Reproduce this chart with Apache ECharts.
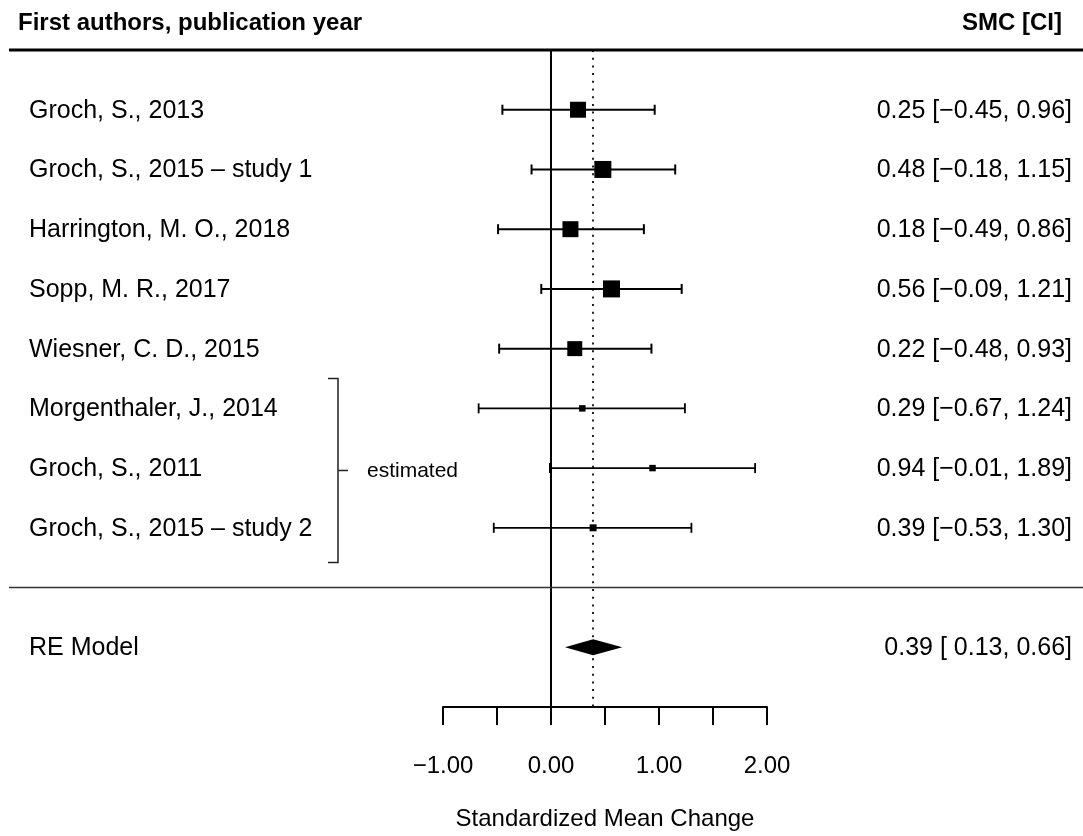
<!DOCTYPE html>
<html>
<head>
<meta charset="utf-8">
<script src="https://cdn.jsdelivr.net/npm/echarts@6.0.0/dist/echarts.min.js"></script>
<style>
  html, body { margin: 0; padding: 0; background: #fff; }
  #chart { width: 1083px; height: 836px; }
</style>
</head>
<body>
<div id="chart"></div>
<script>
// study rows (top to bottom)
const studies = [
  'Groch, S., 2013',
  'Groch, S., 2015 \u2013 study 1',
  'Harrington, M. O., 2018',
  'Sopp, M. R., 2017',
  'Wiesner, C. D., 2015',
  'Morgenthaler, J., 2014',
  'Groch, S., 2011',
  'Groch, S., 2015 \u2013 study 2'
]
const smc = [0.25, 0.48, 0.18, 0.56, 0.22, 0.29, 0.94, 0.39]
const ciLow = [-0.45, -0.18, -0.49, -0.09, -0.48, -0.67, -0.01, -0.53]
const ciHigh = [0.96, 1.15, 0.86, 1.21, 0.93, 1.24, 1.89, 1.30]
// relative weight (box size, largest = 1)
const weight = [0.94, 1.0, 0.94, 1.0, 0.88, 0.38, 0.38, 0.41]
const estimated = [false, false, false, false, false, true, true, true]

// pooled random-effects estimate: [est, lo, hi]
const pooledName = 'RE Model'
const pooled = [0.39, 0.13, 0.66]

const xTicks = [-1, -0.5, 0, 0.5, 1, 1.5, 2]
const xTickLabels = ['\u22121.00', '', '0.00', '', '1.00', '', '2.00']

const FONT = "'Liberation Sans', Helvetica, Arial, sans-serif"
const BOX = 17
const pooledRow = studies.length + 2

function fmt(v) {
  return (v < 0 ? '\u2212' : '') + Math.abs(v).toFixed(2)
}
function ciText(est, lo, hi) {
  return fmt(est) + ' [' + (lo >= 0 ? ' ' : '') + fmt(lo) + ', ' + fmt(hi) + ']'
}

const myChart = echarts.init(document.getElementById('chart'))

const headStyle = { fontFamily: FONT, fontWeight: 'bold', fontSize: 24, color: '#000' }

const option = {
  animation: false,
  title: [
    { text: 'First authors, publication year', left: 18, top: 11, padding: 0, textStyle: headStyle },
    { text: 'SMC [CI]', right: 21, top: 11, padding: 0, textStyle: headStyle }
  ],
  grid: { left: 443, right: 316, top: 50, bottom: 125 },
  xAxis: {
    type: 'value',
    min: -1,
    max: 2,
    interval: 0.5,
    name: 'Standardized Mean Change',
    nameLocation: 'middle',
    nameGap: 100,
    nameTextStyle: { fontFamily: FONT, fontSize: 24, color: '#000' },
    axisLine: { onZero: false, lineStyle: { color: '#000', width: 2 } },
    axisTick: { length: 18, lineStyle: { color: '#000', width: 2 } },
    splitLine: { show: false },
    axisLabel: {
      margin: 47,
      fontFamily: FONT,
      fontSize: 24,
      color: '#000',
      formatter: v => {
        const k = xTicks.findIndex(t => Math.abs(t - v) < 1e-6)
        return k < 0 ? '' : xTickLabels[k]
      }
    }
  },
  yAxis: { type: 'value', min: 0, max: 11, inverse: true, show: false },
  series: [
    {
      // full-width header rule and separator above the pooled row
      type: 'custom',
      silent: true,
      data: [[0, 3], [studies.length + 1, 1.6]],
      renderItem: (params, api) => {
        const y = api.coord([0, api.value(0)])[1]
        return {
          type: 'line',
          shape: { x1: 9, y1: y, x2: api.getWidth(), y2: y },
          style: { stroke: params.dataIndex === 0 ? '#000' : '#333', lineWidth: api.value(1) }
        }
      }
    },
    {
      type: 'custom',
      silent: true,
      data: studies.map((s, i) => [i + 1, smc[i], ciLow[i], ciHigh[i], weight[i]]),
      encode: { x: [1, 2, 3], y: 0 },
      renderItem: (params, api) => {
        const row = api.value(0)
        const c = api.coord([api.value(1), row])
        const a = api.coord([api.value(2), row])
        const b = api.coord([api.value(3), row])
        const s = api.value(4) * BOX
        const lw = estimated[params.dataIndex] ? 1.8 : 2
        const st = { stroke: '#000', lineWidth: lw }
        return {
          type: 'group',
          children: [
            { type: 'line', shape: { x1: a[0], y1: c[1], x2: b[0], y2: c[1] }, style: st },
            { type: 'line', shape: { x1: a[0], y1: c[1] - 5, x2: a[0], y2: c[1] + 5 }, style: st },
            { type: 'line', shape: { x1: b[0], y1: c[1] - 5, x2: b[0], y2: c[1] + 5 }, style: st },
            { type: 'rect', shape: { x: c[0] - s / 2, y: c[1] - s / 2, width: s, height: s }, style: { fill: '#000' } }
          ]
        }
      },
      markLine: {
        silent: true,
        symbol: 'none',
        label: { show: false },
        z: 1,
        data: [
          { xAxis: 0, lineStyle: { color: '#000', width: 2, type: 'solid' } },
          { xAxis: pooled[0], lineStyle: { color: '#222', width: 2, type: [2, 5.7] } }
        ]
      }
    },
    {
      // pooled diamond
      type: 'custom',
      silent: true,
      data: [[pooledRow, pooled[0], pooled[1], pooled[2]]],
      encode: { x: [1, 2, 3], y: 0 },
      renderItem: (params, api) => {
        const row = api.value(0)
        const c = api.coord([api.value(1), row])
        const a = api.coord([api.value(2), row])
        const b = api.coord([api.value(3), row])
        return {
          type: 'polygon',
          shape: { points: [[a[0], c[1]], [c[0], c[1] - 8], [b[0], c[1]], [c[0], c[1] + 8]] },
          style: { fill: '#000' }
        }
      }
    },
    {
      // row labels and estimate text
      type: 'custom',
      silent: true,
      data: studies.map((s, i) => [i + 1]).concat([[pooledRow]]),
      renderItem: (params, api) => {
        const i = params.dataIndex
        const y = api.coord([0, api.value(0)])[1] + 1
        const isPooled = i === studies.length
        const name = isPooled ? pooledName : studies[i]
        const txt = isPooled ? ciText(pooled[0], pooled[1], pooled[2]) : ciText(smc[i], ciLow[i], ciHigh[i])
        const ts = { fontFamily: FONT, fontSize: 25, fill: '#000', verticalAlign: 'middle' }
        return {
          type: 'group',
          children: [
            { type: 'text', x: 29, y: y, style: Object.assign({ text: name, align: 'left' }, ts) },
            { type: 'text', x: api.getWidth() - 11, y: y, style: Object.assign({ text: txt, align: 'right' }, ts) }
          ]
        }
      }
    },
    {
      // bracket marking the estimated studies
      type: 'custom',
      silent: true,
      data: [[estimated.indexOf(true) + 1, estimated.lastIndexOf(true) + 1]],
      renderItem: (params, api) => {
        const y0 = api.coord([0, api.value(0) - 0.5])[1]
        const y1 = api.coord([0, api.value(1) + 0.58])[1]
        const ym = (y0 + y1) / 2
        const x = 338
        const st = { stroke: '#222', lineWidth: 1.5 }
        return {
          type: 'group',
          children: [
            { type: 'polyline', shape: { points: [[x - 10, y0], [x, y0], [x, y1], [x - 10, y1]] }, style: Object.assign({ fill: null }, st) },
            { type: 'line', shape: { x1: x, y1: ym, x2: x + 10, y2: ym }, style: st },
            { type: 'text', x: x + 29, y: ym + 1, style: { text: 'estimated', fontFamily: FONT, fontSize: 21, fill: '#000', verticalAlign: 'middle' } }
          ]
        }
      }
    }
  ]
}

myChart.setOption(option)
window.addEventListener('resize', () => {
  myChart.resize()
})
</script>
</body>
</html>
